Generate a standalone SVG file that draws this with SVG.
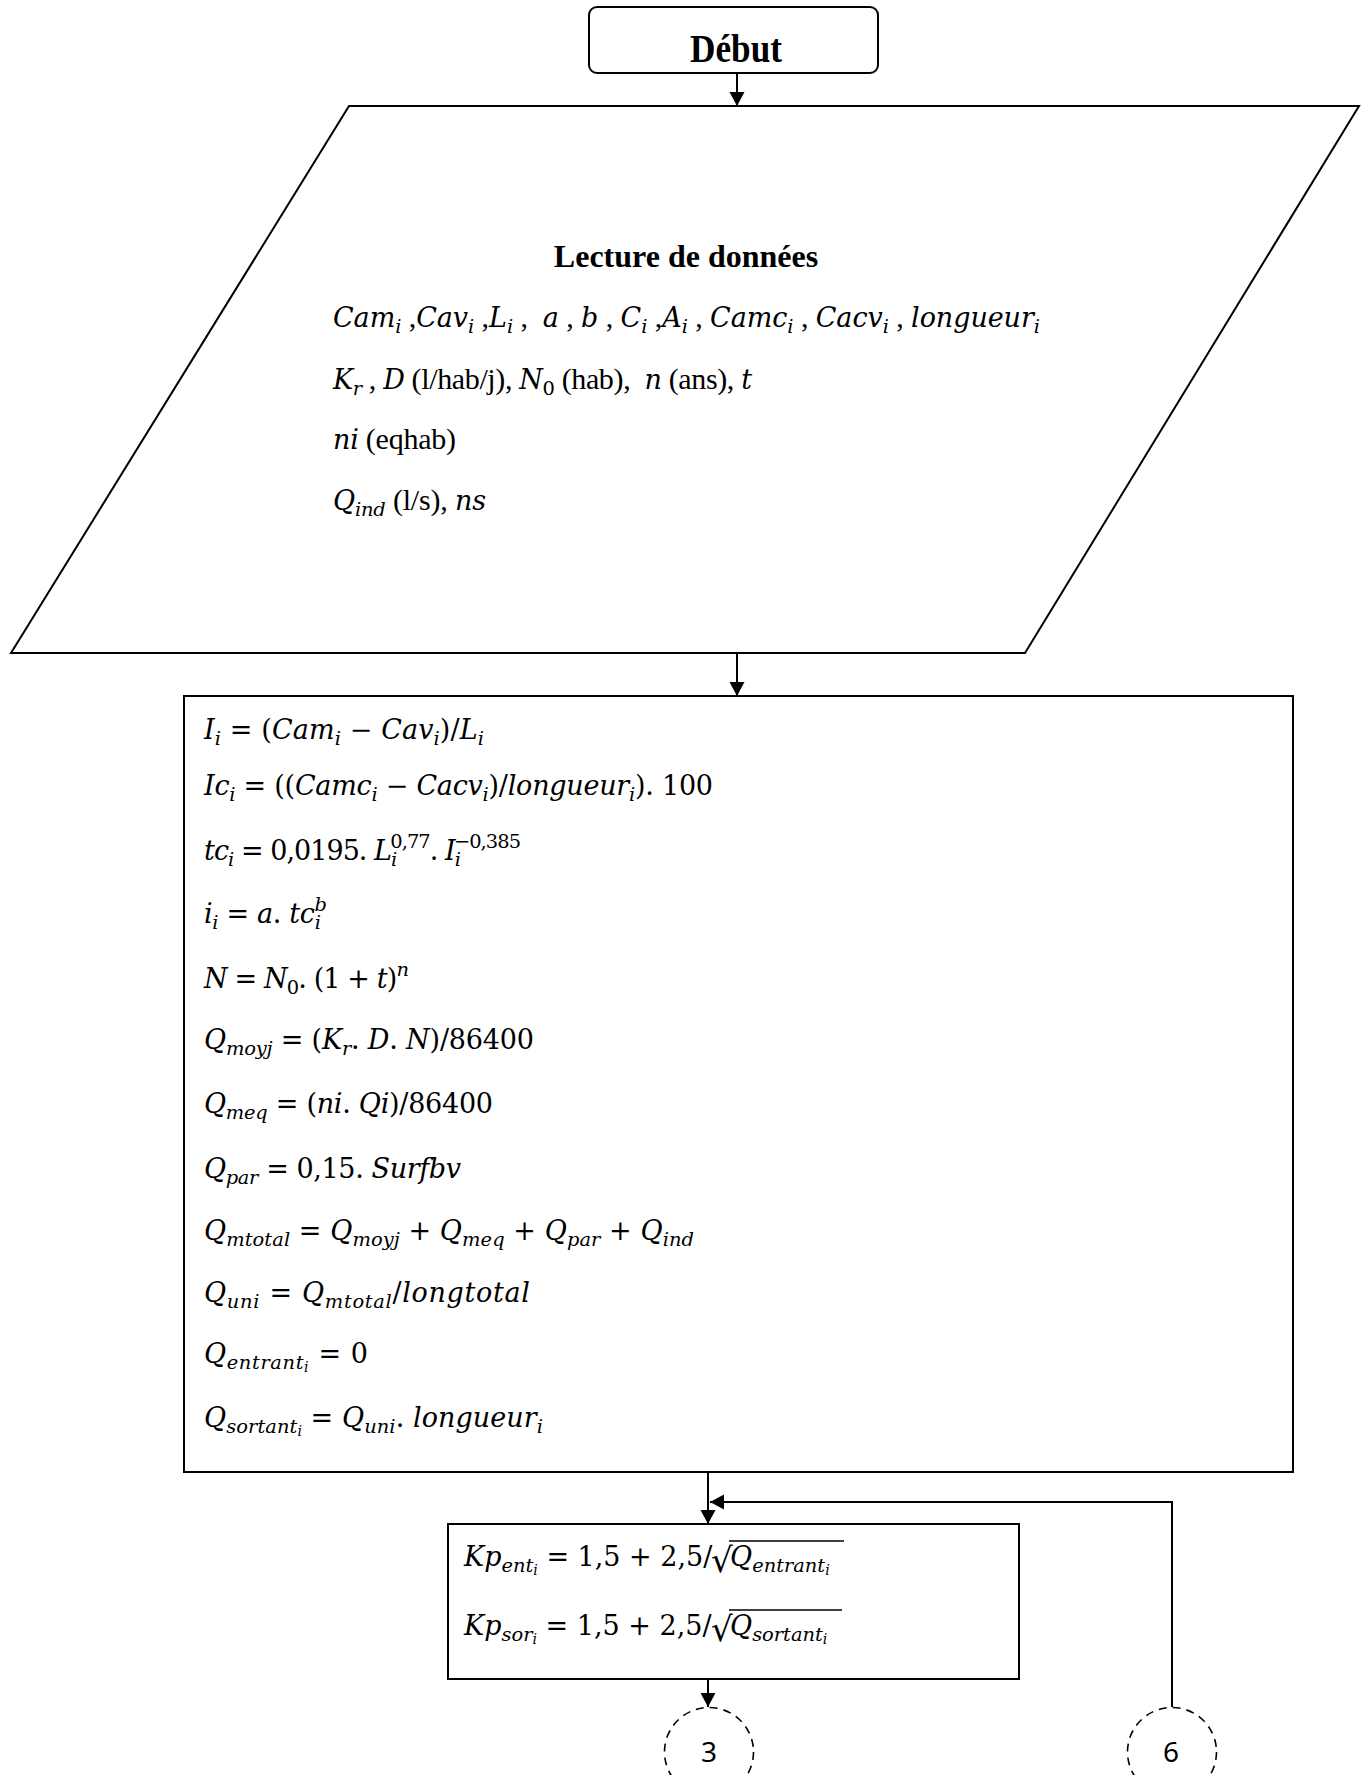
<svg xmlns="http://www.w3.org/2000/svg" width="1362" height="1775" viewBox="0 0 1362 1775">
<style>
.box{fill:#fff;stroke:#000;stroke-width:2}
.con{fill:none;stroke:#000;stroke-width:2}
.dash{fill:#fff;stroke:#000;stroke-width:1.6;stroke-dasharray:8 6}
.m{font-family:"DejaVu Serif",serif;font-style:italic;fill:#000}
.u{font-style:normal}
.t{font-family:"Liberation Serif","Times New Roman",serif;font-style:normal;font-size:30px}
.sb{font-size:72%}
.ss{font-size:52%}
.hd{font-family:"Liberation Serif","Times New Roman",serif;font-weight:bold;fill:#000}
.num{font-family:"Noto Sans","Open Sans",sans-serif;font-size:28px;fill:#000;text-anchor:middle}
.bar{stroke:#000;stroke-width:1.5}
</style>
<defs>
<marker id="ah" markerUnits="userSpaceOnUse" markerWidth="16" markerHeight="16" refX="14" refY="7.5" orient="auto">
<path d="M0,0 L14,7.5 L0,15 z" fill="#000"/>
</marker>
</defs>

<g id="connectors">
<line class="con" x1="737" y1="73" x2="737" y2="106" marker-end="url(#ah)"/>
<line class="con" x1="737" y1="653" x2="737" y2="696" marker-end="url(#ah)"/>
<line class="con" x1="708" y1="1472" x2="708" y2="1524" marker-end="url(#ah)"/>
<path class="con" d="M1172,1707 V1502 H710" marker-end="url(#ah)"/>
<line class="con" x1="708" y1="1679" x2="708" y2="1707" marker-end="url(#ah)"/>
</g>

<g id="debut">
<rect class="box" x="589" y="7" width="289" height="66" rx="8"/>
<text class="hd" x="736" y="62" font-size="40" text-anchor="middle" textLength="92" lengthAdjust="spacingAndGlyphs">Début</text>
</g>

<g id="lecture">
<polygon class="box" points="349,106 1359,106 1025,653 11,653"/>
<text class="hd" x="686" y="267" font-size="32" text-anchor="middle">Lecture de données</text>
<text class="m" x="333" y="327" font-size="27" textLength="707"><tspan>Cam</tspan><tspan class="sb" dy="6">i</tspan><tspan class="t" dy="-6"> ,</tspan><tspan>Cav</tspan><tspan class="sb" dy="6">i</tspan><tspan class="t" dy="-6"> ,</tspan><tspan>L</tspan><tspan class="sb" dy="6">i</tspan><tspan class="t" dy="-6"> ,&#160; </tspan><tspan>a</tspan><tspan class="t"> , </tspan><tspan>b</tspan><tspan class="t"> , </tspan><tspan>C</tspan><tspan class="sb" dy="6">i</tspan><tspan class="t" dy="-6"> ,</tspan><tspan>A</tspan><tspan class="sb" dy="6">i</tspan><tspan class="t" dy="-6"> , </tspan><tspan>Camc</tspan><tspan class="sb" dy="6">i</tspan><tspan class="t" dy="-6"> , </tspan><tspan>Cacv</tspan><tspan class="sb" dy="6">i</tspan><tspan class="t" dy="-6"> , </tspan><tspan>longueur</tspan><tspan class="sb" dy="6">i</tspan></text>
<text class="m" x="333" y="389" font-size="27" textLength="419"><tspan>K</tspan><tspan class="sb" dy="6">r</tspan><tspan class="t" dy="-6"> , </tspan><tspan>D</tspan><tspan class="t"> (l/hab/j), </tspan><tspan>N</tspan><tspan class="sb u" dy="6">0</tspan><tspan class="t" dy="-6"> (hab),&#160; </tspan><tspan>n</tspan><tspan class="t"> (ans), </tspan><tspan>t</tspan></text>
<text class="m" x="333" y="449" font-size="27" textLength="123"><tspan>ni</tspan><tspan class="t"> (eqhab)</tspan></text>
<text class="m" x="333" y="510" font-size="27" textLength="153"><tspan>Q</tspan><tspan class="sb" dy="6">ind</tspan><tspan class="t" dy="-6"> (l/s), </tspan><tspan>ns</tspan></text>
</g>

<g id="calculs">
<rect class="box" x="184" y="696" width="1109" height="776"/>
<text class="m" x="204" y="739" font-size="27" textLength="280"><tspan>I</tspan><tspan class="sb" dy="6">i</tspan><tspan class="u" dy="-6"> = (</tspan><tspan>Cam</tspan><tspan class="sb" dy="6">i</tspan><tspan class="u" dy="-6"> − </tspan><tspan>Cav</tspan><tspan class="sb" dy="6">i</tspan><tspan class="u" dy="-6">)/</tspan><tspan>L</tspan><tspan class="sb" dy="6">i</tspan></text>
<text class="m" x="204" y="795" font-size="27" textLength="509"><tspan>Ic</tspan><tspan class="sb" dy="6">i</tspan><tspan class="u" dy="-6"> = ((</tspan><tspan>Camc</tspan><tspan class="sb" dy="6">i</tspan><tspan class="u" dy="-6"> − </tspan><tspan>Cacv</tspan><tspan class="sb" dy="6">i</tspan><tspan class="u" dy="-6">)/</tspan><tspan>longueur</tspan><tspan class="sb" dy="6">i</tspan><tspan class="u" dy="-6">). 100</tspan></text>
<text class="m" x="204" y="860" font-size="27" textLength="317"><tspan>tc</tspan><tspan class="sb" dy="6">i</tspan><tspan class="u" dy="-6"> = 0,0195. </tspan><tspan>L</tspan><tspan class="sb" dy="6">i</tspan><tspan class="sb u" dx="-6" dy="-18">0,77</tspan><tspan class="u" dy="12">. </tspan><tspan>I</tspan><tspan class="sb" dy="6">i</tspan><tspan class="sb u" dx="-6" dy="-18">−0,385</tspan></text>
<text class="m" x="204" y="923" font-size="27" textLength="123"><tspan>i</tspan><tspan class="sb" dy="6">i</tspan><tspan class="u" dy="-6"> = </tspan><tspan>a</tspan><tspan class="u">. </tspan><tspan>tc</tspan><tspan class="sb" dy="6">i</tspan><tspan class="sb" dx="-6" dy="-18">b</tspan></text>
<text class="m" x="204" y="988" font-size="27" textLength="205"><tspan>N</tspan><tspan class="u"> = </tspan><tspan>N</tspan><tspan class="sb u" dy="6">0</tspan><tspan class="u" dy="-6">. (1 + </tspan><tspan>t</tspan><tspan class="u">)</tspan><tspan class="sb" dy="-12">n</tspan></text>
<text class="m" x="204" y="1049" font-size="27" textLength="330"><tspan>Q</tspan><tspan class="sb" dy="6">moyj</tspan><tspan class="u" dy="-6"> = (</tspan><tspan>K</tspan><tspan class="sb" dy="6">r</tspan><tspan class="u" dy="-6">. </tspan><tspan>D</tspan><tspan class="u">. </tspan><tspan>N</tspan><tspan class="u">)/86400</tspan></text>
<text class="m" x="204" y="1113" font-size="27" textLength="289"><tspan>Q</tspan><tspan class="sb" dy="6">meq</tspan><tspan class="u" dy="-6"> = (</tspan><tspan>ni</tspan><tspan class="u">. </tspan><tspan>Qi</tspan><tspan class="u">)/86400</tspan></text>
<text class="m" x="204" y="1178" font-size="27" textLength="257"><tspan>Q</tspan><tspan class="sb" dy="6">par</tspan><tspan class="u" dy="-6"> = 0,15. </tspan><tspan>Surfbv</tspan></text>
<text class="m" x="204" y="1240" font-size="27" textLength="490"><tspan>Q</tspan><tspan class="sb" dy="6">mtotal</tspan><tspan class="u" dy="-6"> = </tspan><tspan>Q</tspan><tspan class="sb" dy="6">moyj</tspan><tspan class="u" dy="-6"> + </tspan><tspan>Q</tspan><tspan class="sb" dy="6">meq</tspan><tspan class="u" dy="-6"> + </tspan><tspan>Q</tspan><tspan class="sb" dy="6">par</tspan><tspan class="u" dy="-6"> + </tspan><tspan>Q</tspan><tspan class="sb" dy="6">ind</tspan></text>
<text class="m" x="204" y="1302" font-size="27" textLength="326"><tspan>Q</tspan><tspan class="sb" dy="6">uni</tspan><tspan class="u" dy="-6"> = </tspan><tspan>Q</tspan><tspan class="sb" dy="6">mtotal</tspan><tspan class="u" dy="-6">/</tspan><tspan>longtotal</tspan></text>
<text class="m" x="204" y="1363" font-size="27" textLength="164"><tspan>Q</tspan><tspan class="sb" dy="6">entrant</tspan><tspan class="ss" dy="3">i</tspan><tspan class="u" dy="-9"> = 0</tspan></text>
<text class="m" x="204" y="1427" font-size="27" textLength="339"><tspan>Q</tspan><tspan class="sb" dy="6">sortant</tspan><tspan class="ss" dy="3">i</tspan><tspan class="u" dy="-9"> = </tspan><tspan>Q</tspan><tspan class="sb" dy="6">uni</tspan><tspan class="u" dy="-6">. </tspan><tspan>longueur</tspan><tspan class="sb" dy="6">i</tspan></text>
</g>

<g id="kp">
<rect class="box" x="448" y="1524" width="571" height="155"/>
<text class="m" x="464" y="1566" font-size="27"><tspan>Kp</tspan><tspan class="sb" dy="6">ent</tspan><tspan class="ss" dy="3">i</tspan><tspan class="u" dy="-9"> = 1,5 + 2,5/</tspan></text>
<text class="m u" x="711" y="1572" font-size="34">√</text>
<line class="bar" x1="729" y1="1541" x2="844" y2="1541"/>
<text class="m" x="730" y="1566" font-size="27"><tspan>Q</tspan><tspan class="sb" dy="6">entrant</tspan><tspan class="ss" dy="3">i</tspan></text>
<text class="m" x="464" y="1635" font-size="27"><tspan>Kp</tspan><tspan class="sb" dy="6">sor</tspan><tspan class="ss" dy="3">i</tspan><tspan class="u" dy="-9"> = 1,5 + 2,5/</tspan></text>
<text class="m u" x="711" y="1641" font-size="34">√</text>
<line class="bar" x1="729" y1="1610" x2="842" y2="1610"/>
<text class="m" x="730" y="1635" font-size="27"><tspan>Q</tspan><tspan class="sb" dy="6">sortant</tspan><tspan class="ss" dy="3">i</tspan></text>
</g>

<g id="conn3">
<circle class="dash" cx="709" cy="1752" r="44.5"/>
<text class="num" x="709" y="1762">3</text>
</g>
<g id="conn6">
<circle class="dash" cx="1172" cy="1752" r="44.5"/>
<text class="num" x="1171" y="1762">6</text>
</g>
</svg>
